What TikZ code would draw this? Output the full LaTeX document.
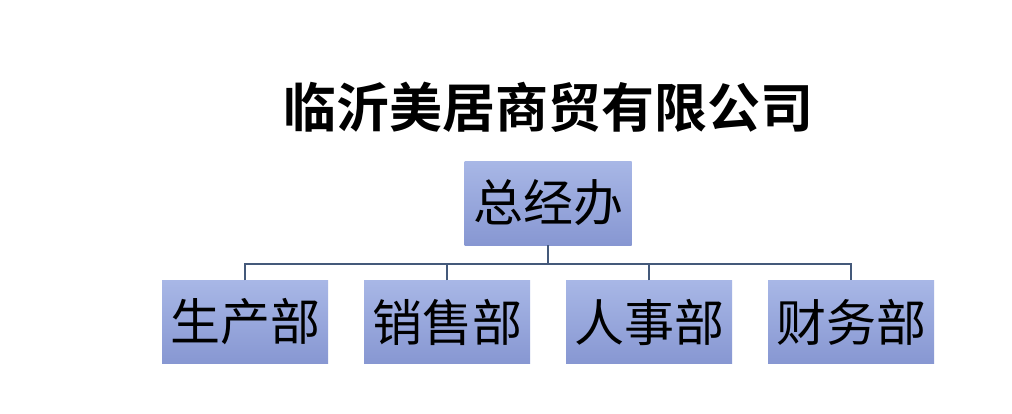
\documentclass[tikz,border=0pt]{standalone}
\usepackage{fontspec}
\newfontfamily\cjk{Noto Sans CJK SC}
\newfontfamily\cjkb{Noto Sans CJK SC Bold}
\begin{document}
\begin{tikzpicture}[x=1pt,y=-1pt,
  box/.style={draw=none,top color=boxtop,bottom color=boxbot,minimum width=166pt,minimum height=83pt,inner sep=0pt,font=\cjk\fontsize{50}{50}\selectfont},
  link/.style={draw=linec,line width=1.8pt}]
\definecolor{boxtop}{HTML}{A8B7E6}
\definecolor{boxbot}{HTML}{8797D2}
\definecolor{linec}{HTML}{44597A}
\useasboundingbox[fill=white] (0,0) rectangle (1012,413);
\node[font=\cjkb\fontsize{53}{53}\selectfont] (title) at (548,107) {临沂美居商贸有限公司};
\node[box,minimum height=84pt,minimum width=167pt] (top) at (548,203) {总经办};
\node[box] (b1) at (245,322) {生产部};
\node[box] (b2) at (447,322) {销售部};
\node[box] (b3) at (649,322) {人事部};
\node[box] (b4) at (851,322) {财务部};
\coordinate (bar) at (548,264);
\draw[link] (top.south) -- (bar);
\draw[link] (b1.north) |- (bar) -| (b4.north);
\draw[link] (b2.north) -- (b2.north |- bar);
\draw[link] (b3.north) -- (b3.north |- bar);
\end{tikzpicture}
\end{document}
